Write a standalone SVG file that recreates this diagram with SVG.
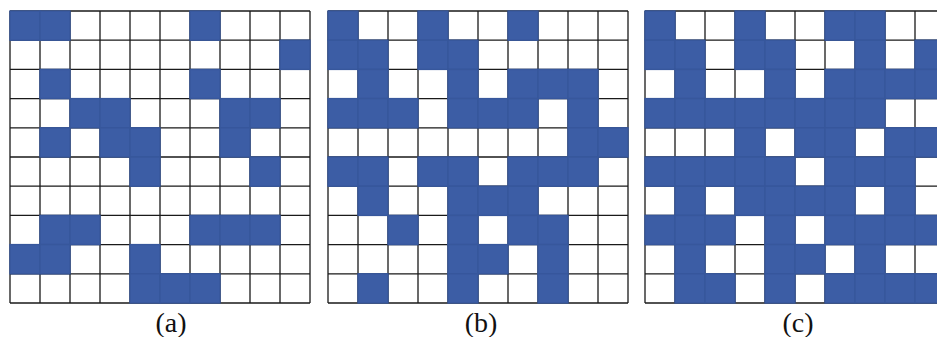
<svg xmlns="http://www.w3.org/2000/svg" xmlns:xlink="http://www.w3.org/1999/xlink" width="937" height="337" viewBox="0 0 937 337">
<style>
.grid{fill:none;stroke:#1a1a1a;stroke-width:1.3}
.cell{fill:#3c5da5;stroke:#37579c;stroke-width:1.4}
.lbl{font-family:"Liberation Serif","Times New Roman",serif;font-size:28px;fill:#111;text-anchor:middle}
</style>
<defs>
<path id="g" d="M0 0V292M30 0V292M60 0V292M90 0V292M120 0V292M150 0V292M180 0V292M210 0V292M240 0V292M270 0V292M300 0V292M0 0H300M0 29.2H300M0 58.4H300M0 87.6H300M0 116.8H300M0 146H300M0 175.2H300M0 204.4H300M0 233.6H300M0 262.8H300M0 292H300"/>
<rect id="c" class="cell" width="30" height="29.2"/>
</defs>
<rect width="937" height="337" fill="#ffffff"/>
<g id="grid-a" transform="translate(10,11)">
<use xlink:href="#g" class="grid"/>
<use xlink:href="#c" x="0" y="0"/><use xlink:href="#c" x="30" y="0"/><use xlink:href="#c" x="180" y="0"/>
<use xlink:href="#c" x="270" y="29.2"/>
<use xlink:href="#c" x="30" y="58.4"/><use xlink:href="#c" x="180" y="58.4"/>
<use xlink:href="#c" x="60" y="87.6"/><use xlink:href="#c" x="90" y="87.6"/><use xlink:href="#c" x="210" y="87.6"/><use xlink:href="#c" x="240" y="87.6"/>
<use xlink:href="#c" x="30" y="116.8"/><use xlink:href="#c" x="90" y="116.8"/><use xlink:href="#c" x="120" y="116.8"/><use xlink:href="#c" x="210" y="116.8"/>
<use xlink:href="#c" x="120" y="146"/><use xlink:href="#c" x="240" y="146"/>
<use xlink:href="#c" x="30" y="204.4"/><use xlink:href="#c" x="60" y="204.4"/><use xlink:href="#c" x="180" y="204.4"/><use xlink:href="#c" x="210" y="204.4"/><use xlink:href="#c" x="240" y="204.4"/>
<use xlink:href="#c" x="0" y="233.6"/><use xlink:href="#c" x="30" y="233.6"/><use xlink:href="#c" x="120" y="233.6"/>
<use xlink:href="#c" x="120" y="262.8"/><use xlink:href="#c" x="150" y="262.8"/><use xlink:href="#c" x="180" y="262.8"/>
</g>
<g id="grid-b" transform="translate(328,11)">
<use xlink:href="#g" class="grid"/>
<use xlink:href="#c" x="0" y="0"/><use xlink:href="#c" x="90" y="0"/><use xlink:href="#c" x="180" y="0"/>
<use xlink:href="#c" x="0" y="29.2"/><use xlink:href="#c" x="30" y="29.2"/><use xlink:href="#c" x="90" y="29.2"/><use xlink:href="#c" x="120" y="29.2"/>
<use xlink:href="#c" x="30" y="58.4"/><use xlink:href="#c" x="120" y="58.4"/><use xlink:href="#c" x="180" y="58.4"/><use xlink:href="#c" x="210" y="58.4"/><use xlink:href="#c" x="240" y="58.4"/>
<use xlink:href="#c" x="0" y="87.6"/><use xlink:href="#c" x="30" y="87.6"/><use xlink:href="#c" x="60" y="87.6"/><use xlink:href="#c" x="120" y="87.6"/><use xlink:href="#c" x="150" y="87.6"/><use xlink:href="#c" x="180" y="87.6"/><use xlink:href="#c" x="240" y="87.6"/>
<use xlink:href="#c" x="240" y="116.8"/><use xlink:href="#c" x="270" y="116.8"/>
<use xlink:href="#c" x="0" y="146"/><use xlink:href="#c" x="30" y="146"/><use xlink:href="#c" x="90" y="146"/><use xlink:href="#c" x="120" y="146"/><use xlink:href="#c" x="180" y="146"/><use xlink:href="#c" x="210" y="146"/><use xlink:href="#c" x="240" y="146"/>
<use xlink:href="#c" x="30" y="175.2"/><use xlink:href="#c" x="120" y="175.2"/><use xlink:href="#c" x="150" y="175.2"/><use xlink:href="#c" x="180" y="175.2"/>
<use xlink:href="#c" x="60" y="204.4"/><use xlink:href="#c" x="120" y="204.4"/><use xlink:href="#c" x="180" y="204.4"/><use xlink:href="#c" x="210" y="204.4"/>
<use xlink:href="#c" x="120" y="233.6"/><use xlink:href="#c" x="150" y="233.6"/><use xlink:href="#c" x="210" y="233.6"/>
<use xlink:href="#c" x="30" y="262.8"/><use xlink:href="#c" x="120" y="262.8"/><use xlink:href="#c" x="210" y="262.8"/>
</g>
<g id="grid-c" transform="translate(645,11)">
<use xlink:href="#g" class="grid"/>
<use xlink:href="#c" x="0" y="0"/><use xlink:href="#c" x="90" y="0"/><use xlink:href="#c" x="180" y="0"/><use xlink:href="#c" x="210" y="0"/>
<use xlink:href="#c" x="0" y="29.2"/><use xlink:href="#c" x="30" y="29.2"/><use xlink:href="#c" x="90" y="29.2"/><use xlink:href="#c" x="120" y="29.2"/><use xlink:href="#c" x="210" y="29.2"/><use xlink:href="#c" x="270" y="29.2"/>
<use xlink:href="#c" x="30" y="58.4"/><use xlink:href="#c" x="120" y="58.4"/><use xlink:href="#c" x="180" y="58.4"/><use xlink:href="#c" x="210" y="58.4"/><use xlink:href="#c" x="240" y="58.4"/><use xlink:href="#c" x="270" y="58.4"/>
<use xlink:href="#c" x="0" y="87.6"/><use xlink:href="#c" x="30" y="87.6"/><use xlink:href="#c" x="60" y="87.6"/><use xlink:href="#c" x="90" y="87.6"/><use xlink:href="#c" x="120" y="87.6"/><use xlink:href="#c" x="150" y="87.6"/><use xlink:href="#c" x="180" y="87.6"/><use xlink:href="#c" x="210" y="87.6"/>
<use xlink:href="#c" x="90" y="116.8"/><use xlink:href="#c" x="150" y="116.8"/><use xlink:href="#c" x="180" y="116.8"/><use xlink:href="#c" x="240" y="116.8"/><use xlink:href="#c" x="270" y="116.8"/>
<use xlink:href="#c" x="0" y="146"/><use xlink:href="#c" x="30" y="146"/><use xlink:href="#c" x="60" y="146"/><use xlink:href="#c" x="90" y="146"/><use xlink:href="#c" x="120" y="146"/><use xlink:href="#c" x="180" y="146"/><use xlink:href="#c" x="210" y="146"/><use xlink:href="#c" x="240" y="146"/>
<use xlink:href="#c" x="30" y="175.2"/><use xlink:href="#c" x="90" y="175.2"/><use xlink:href="#c" x="120" y="175.2"/><use xlink:href="#c" x="150" y="175.2"/><use xlink:href="#c" x="180" y="175.2"/><use xlink:href="#c" x="240" y="175.2"/>
<use xlink:href="#c" x="0" y="204.4"/><use xlink:href="#c" x="30" y="204.4"/><use xlink:href="#c" x="60" y="204.4"/><use xlink:href="#c" x="120" y="204.4"/><use xlink:href="#c" x="180" y="204.4"/><use xlink:href="#c" x="210" y="204.4"/><use xlink:href="#c" x="240" y="204.4"/><use xlink:href="#c" x="270" y="204.4"/>
<use xlink:href="#c" x="30" y="233.6"/><use xlink:href="#c" x="120" y="233.6"/><use xlink:href="#c" x="150" y="233.6"/><use xlink:href="#c" x="210" y="233.6"/>
<use xlink:href="#c" x="30" y="262.8"/><use xlink:href="#c" x="60" y="262.8"/><use xlink:href="#c" x="120" y="262.8"/><use xlink:href="#c" x="180" y="262.8"/><use xlink:href="#c" x="210" y="262.8"/><use xlink:href="#c" x="240" y="262.8"/><use xlink:href="#c" x="270" y="262.8"/>
</g>
<g id="labels">
<text class="lbl" x="171" y="332">(a)</text>
<text class="lbl" x="481" y="332">(b)</text>
<text class="lbl" x="798" y="332">(c)</text>
</g>
</svg>
